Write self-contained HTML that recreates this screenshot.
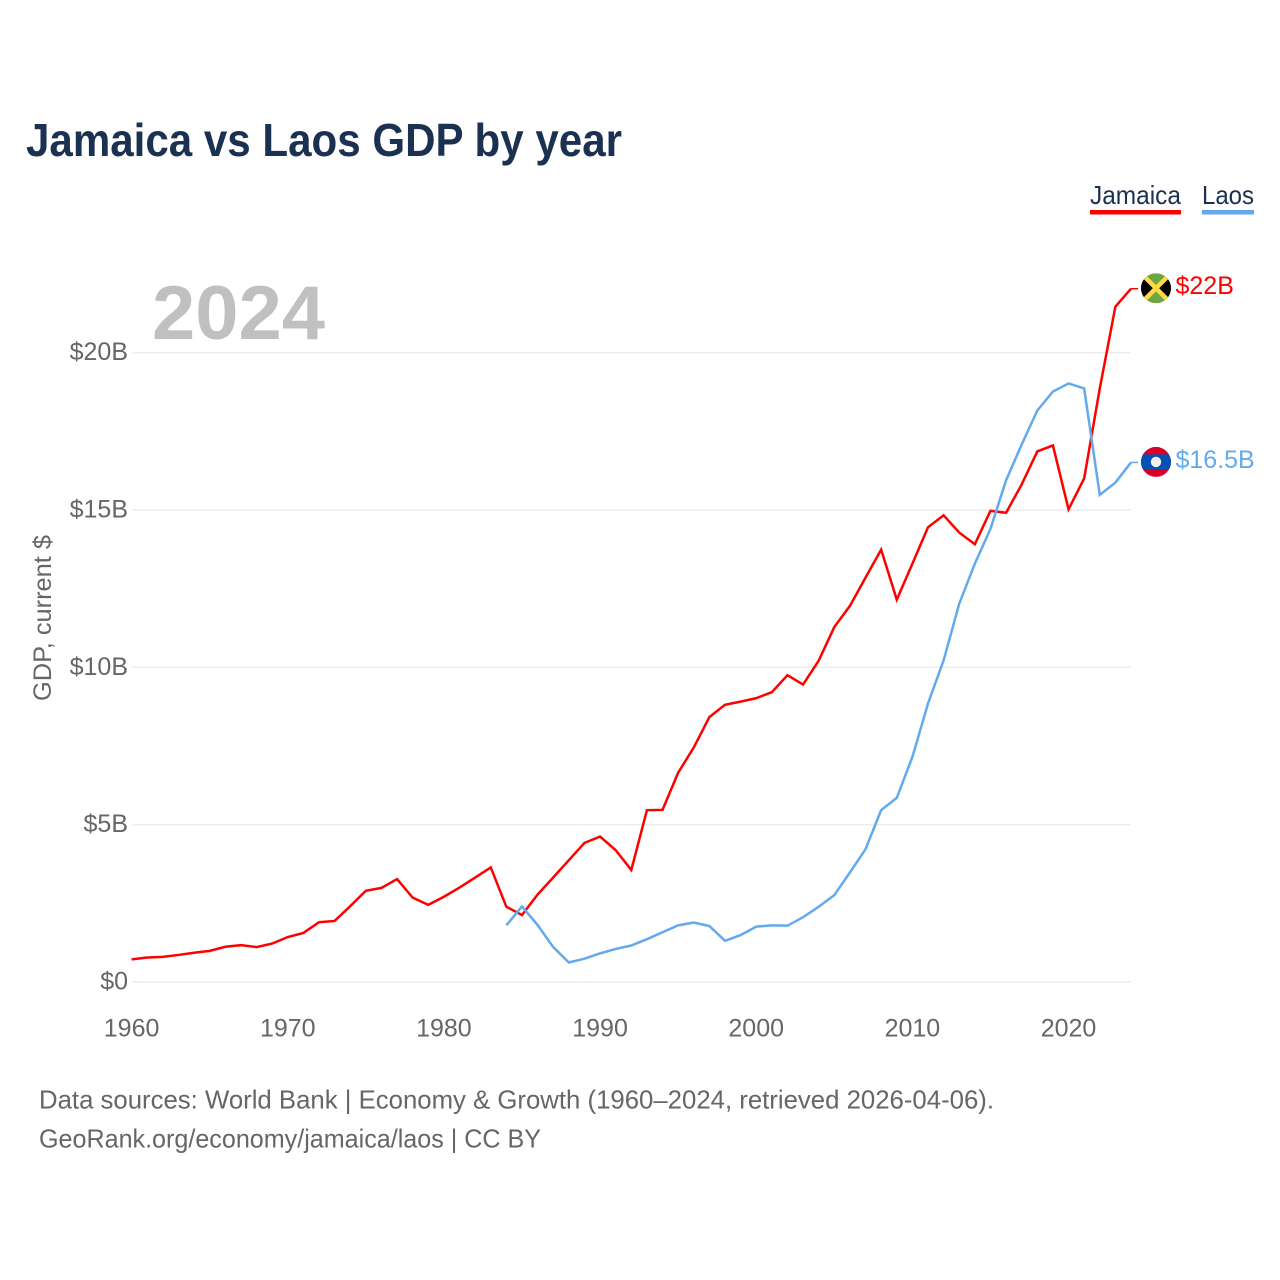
<!DOCTYPE html>
<html lang="en">
<head>
<meta charset="utf-8">
<title>Jamaica vs Laos GDP by year</title>
<style>
html,body{margin:0;padding:0;background:#fff;width:1280px;height:1280px;overflow:hidden}
svg{display:block;font-family:"Liberation Sans",sans-serif}
</style>
</head>
<body>
<svg id="chart" width="1280" height="1280" viewBox="0 0 1280 1280" xmlns="http://www.w3.org/2000/svg">
  <defs>
    <clipPath id="flag-clip"><circle cx="0" cy="0" r="15"/></clipPath>
  </defs>
  <rect width="1280" height="1280" fill="#fff"/>
  <text x="26" y="156" font-size="46" font-weight="700" fill="#1a3151" textLength="596" lengthAdjust="spacingAndGlyphs">Jamaica vs Laos GDP by year</text>

  <g>
    <text x="1090" y="204" font-size="26" fill="#1a3151" textLength="91" lengthAdjust="spacingAndGlyphs">Jamaica</text>
    <rect x="1090" y="210" width="91" height="4.5" fill="#ff0000"/>
  </g>
  <g>
    <text x="1202" y="204" font-size="26" fill="#1a3151" textLength="52" lengthAdjust="spacingAndGlyphs">Laos</text>
    <rect x="1202" y="210" width="52" height="4.5" fill="#63a9ee"/>
  </g>

  <text x="152" y="339" font-size="76" font-weight="700" fill="#c0c0c0" textLength="173" lengthAdjust="spacingAndGlyphs">2024</text>
  <text transform="translate(51,701) rotate(-90)" font-size="25" fill="#666" textLength="166" lengthAdjust="spacingAndGlyphs">GDP, current $</text>

  <g id="grid"></g>
  <g id="y-ticks"></g>
  <g id="x-ticks"></g>
  <g id="series"></g>

  <g id="flag-jamaica">
    <g clip-path="url(#flag-clip)">
      <rect x="-15" y="-15" width="30" height="30" fill="#6da544"/>
      <polygon points="-15,-15 0,0 -15,15" fill="#000"/>
      <polygon points="15,-15 0,0 15,15" fill="#000"/>
      <line x1="-15" y1="-15" x2="15" y2="15" stroke="#ffda44" stroke-width="4.5"/>
      <line x1="-15" y1="15" x2="15" y2="-15" stroke="#ffda44" stroke-width="4.5"/>
    </g>
  </g>
  <g id="flag-laos">
    <g clip-path="url(#flag-clip)">
      <rect x="-15" y="-15" width="30" height="30" fill="#d80027"/>
      <rect x="-15" y="-7.5" width="30" height="15" fill="#0052b4"/>
      <circle cx="0" cy="0" r="5.2" fill="#f0f0f0"/>
    </g>
  </g>
  <text id="label-jamaica" x="1175.5" font-size="25" fill="#ff0000"></text>
  <text id="label-laos" x="1175.5" font-size="25" fill="#63a9ee"></text>

  <text x="39" y="1108.5" font-size="26" fill="#666" textLength="955" lengthAdjust="spacingAndGlyphs">Data sources: World Bank | Economy &amp; Growth (1960–2024, retrieved 2026-04-06).</text>
  <text x="39" y="1147.5" font-size="26" fill="#666" textLength="502" lengthAdjust="spacingAndGlyphs">GeoRank.org/economy/jamaica/laos | CC BY</text>
</svg>
<script>
const jamaicaStartYear = 1960;
const jamaicaValues = [0.72,0.78,0.80,0.86,0.93,0.99,1.12,1.17,1.11,1.22,1.43,1.56,1.90,1.94,2.41,2.90,2.99,3.27,2.68,2.45,2.71,3.00,3.32,3.64,2.39,2.13,2.78,3.32,3.87,4.42,4.62,4.19,3.56,5.46,5.47,6.65,7.45,8.42,8.81,8.91,9.02,9.21,9.75,9.45,10.21,11.28,11.95,12.85,13.74,12.15,13.29,14.45,14.83,14.28,13.91,14.97,14.91,15.81,16.86,17.05,15.02,16.00,18.86,21.46,22.03];
const laosStartYear = 1984;
const laosValues = [1.80,2.40,1.81,1.11,0.62,0.74,0.91,1.05,1.16,1.36,1.58,1.80,1.89,1.78,1.31,1.49,1.76,1.80,1.79,2.06,2.39,2.76,3.48,4.22,5.46,5.85,7.15,8.85,10.22,12.02,13.29,14.40,15.94,17.08,18.16,18.76,19.02,18.86,15.48,15.87,16.51];
const xTickYears = [1960,1970,1980,1990,2000,2010,2020];
const yTickValues = [0,5,10,15,20];
const yTickLabels = ["$0","$5B","$10B","$15B","$20B"];
const jamaicaEndLabel = "$22B";
const laosEndLabel = "$16.5B";

const NS = "http://www.w3.org/2000/svg";
function xScale(year){ return 131.6 + (year - 1960) * (1131 - 131.6) / 64; }
function yScale(v){ return 982 - v * 31.47; }
function make(tag, attrs, parent){
  const el = document.createElementNS(NS, tag);
  for (const k in attrs) el.setAttribute(k, attrs[k]);
  parent.appendChild(el);
  return el;
}

const grid = document.getElementById("grid");
const yTicks = document.getElementById("y-ticks");
yTickValues.forEach(function(v, i){
  const line = make("line", {x1:132, x2:1131, y1:yScale(v), y2:yScale(v), stroke:"#ececec", "stroke-width":1.5}, grid);
  
  
  const t = make("text", {x:128, y:yScale(v)+7.5, "text-anchor":"end", "font-size":25, fill:"#666"}, yTicks);
  
  
  t.textContent = yTickLabels[i];
});

const xTicks = document.getElementById("x-ticks");
xTickYears.forEach(function(year){
  const t = make("text", {x:xScale(year), y:1036.5, "text-anchor":"middle", "font-size":25, fill:"#666"}, xTicks);
  
  
  t.textContent = String(year);
});

function linePoints(values, startYear){
  return values.map(function(v, i){
    return xScale(startYear + i).toFixed(2) + "," + yScale(v).toFixed(2);
  }).join(" ");
}
const seriesGroup = document.getElementById("series");

const jamaicaLine = make("polyline", {points:linePoints(jamaicaValues, jamaicaStartYear), fill:"none", stroke:"#ff0000", "stroke-width":2.5, "stroke-linejoin":"miter"}, seriesGroup);



const laosLine = make("polyline", {points:linePoints(laosValues, laosStartYear), fill:"none", stroke:"#63a9ee", "stroke-width":2.5, "stroke-linejoin":"miter"}, seriesGroup);



function placeEnd(values, startYear, color, flagId, labelId, text){
  const last = values[values.length - 1];
  const lastX = xScale(startYear + values.length - 1);
  const y = yScale(last);
  const leader = make("line", {x1:lastX, x2:lastX + 7, y1:y, y2:y, stroke:color, "stroke-width":1.5}, seriesGroup);
  
  
  document.getElementById(flagId).setAttribute("transform", "translate(1156," + (y - 0.5) + ")");
  const label = document.getElementById(labelId);
  label.setAttribute("y", y + 5.5);
  label.textContent = text;
}
placeEnd(jamaicaValues, jamaicaStartYear, "#ff0000", "flag-jamaica", "label-jamaica", jamaicaEndLabel);
placeEnd(laosValues, laosStartYear, "#63a9ee", "flag-laos", "label-laos", laosEndLabel);
</script>
</body>
</html>
